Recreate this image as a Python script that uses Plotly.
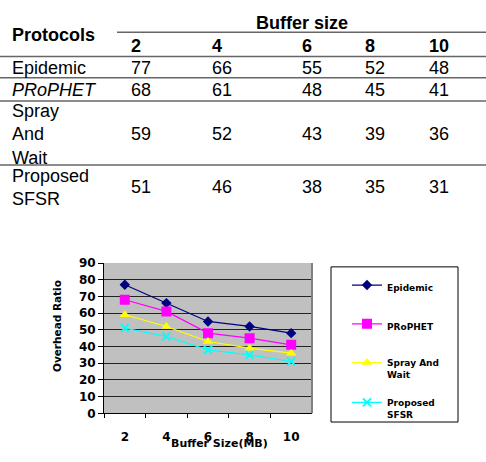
import plotly.graph_objects as go

# ---------------- data ----------------
buffer_sizes = ["2", "4", "6", "8", "10"]
protocols = ["Epidemic", "PRoPHET", "Spray And Wait", "Proposed SFSR"]
table_row_labels = ["Epidemic", "<i>PRoPHET</i>", "Spray<br>And<br>Wait", "Proposed<br>SFSR"]
legend_labels = ["Epidemic", "PRoPHET", "Spray And<br>Wait", "Proposed<br>SFSR"]
epidemic = [77, 66, 55, 52, 48]
prophet = [68, 61, 48, 45, 41]
spray_and_wait = [59, 52, 43, 39, 36]
proposed_sfsr = [51, 46, 38, 35, 31]
series = [epidemic, prophet, spray_and_wait, proposed_sfsr]

# ---------------- styles ----------------
W, H = 486, 462
colors = ["#000080", "#FF00FF", "#FFFF00", "#00FFFF"]
symbols = ["diamond", "square", "triangle-up", "x-thin"]
msizes = [8, 10, 9, 8]
chart_font = "DejaVu Sans"
table_font = "Liberation Sans"
legend_names = ["legend", "legend2", "legend3", "legend4"]
legend_top = [274, 314, 354, 395]


def px(x):
    return x / W


def py(y):
    return 1 - y / H


fig = go.Figure()
for i, vals in enumerate(series):
    marker = dict(color=colors[i], size=msizes[i], symbol=symbols[i])
    if symbols[i] == "x-thin":
        marker["line"] = dict(color=colors[i], width=2)
    fig.add_trace(go.Scatter(
        x=buffer_sizes, y=vals, name=legend_labels[i], mode="lines+markers",
        line=dict(color=colors[i], width=1.2), marker=marker,
        legend=legend_names[i],
    ))

annotations = []
shapes = []

# ---------------- table ----------------
col_x = [129, 210, 300, 363, 427]
row_y = [63, 86, 131, 186]
tf = dict(family=table_font, size=18, color="black")
annotations.append(dict(text="<b>Protocols</b>", x=px(10), y=py(29), xref="paper", yref="paper",
                        xanchor="left", yanchor="middle", showarrow=False, font=tf))
annotations.append(dict(text="<b>Buffer size</b>", x=px(302), y=py(17), xref="paper", yref="paper",
                        xanchor="center", yanchor="middle", showarrow=False, font=tf))
for j, b in enumerate(buffer_sizes):
    annotations.append(dict(text=f"<b>{b}</b>", x=px(col_x[j]), y=py(40), xref="paper", yref="paper",
                            xanchor="left", yanchor="middle", showarrow=False, font=tf))
for i, lab in enumerate(table_row_labels):
    annotations.append(dict(text=lab, x=px(10), y=py(row_y[i]), xref="paper", yref="paper",
                            xanchor="left", yanchor="middle", showarrow=False, font=tf, align="left"))
    for j, v in enumerate(series[i]):
        annotations.append(dict(text=str(v), x=px(col_x[j]), y=py(row_y[i]), xref="paper", yref="paper",
                                xanchor="left", yanchor="middle", showarrow=False, font=tf))

line_style = dict(color="#666666", width=1.5)
for (x0, x1, yy) in [(117, 486, 26), (0, 486, 51), (0, 486, 73), (0, 486, 97), (0, 486, 163)]:
    shapes.append(dict(type="line", xref="paper", yref="paper", x0=px(x0), x1=px(x1),
                       y0=py(yy), y1=py(yy), line=line_style))

# ---------------- chart extras ----------------
cf = dict(family=chart_font, size=11, color="black", weight="bold")
annotations.append(dict(text="Buffer Size(MB)", x=px(219), y=py(450), xref="paper", yref="paper",
                        xanchor="center", yanchor="middle", showarrow=False, font=cf))
annotations.append(dict(text="Overhead Ratio", x=px(57), y=py(329), xref="paper", yref="paper",
                        xanchor="center", yanchor="middle", showarrow=False, font=dict(cf, size=10.5),
                        textangle=-90))
# right border of plot area
shapes.append(dict(type="line", xref="x domain", yref="y domain", x0=1, x1=1, y0=0, y1=1,
                   line=dict(color="#808080", width=2)))
# legend box
shapes.append(dict(type="rect", xref="paper", yref="paper", x0=px(331), x1=px(458),
                   y0=py(428), y1=py(268), line=dict(color="black", width=1)))

lfont = dict(family=chart_font, size=9, color="black", weight="bold")
layout_legends = {}
for i, ln in enumerate(legend_names):
    layout_legends[ln] = dict(x=px(347), y=py(legend_top[i]), xanchor="left", yanchor="top",
                              font=lfont, bgcolor="rgba(0,0,0,0)", borderwidth=0, valign="top")

fig.update_layout(
    width=W, height=H, margin=dict(l=0, r=0, t=0, b=0),
    paper_bgcolor="white", plot_bgcolor="#C0C0C0",
    showlegend=True,
    xaxis=dict(domain=[px(104), px(312)], type="category", range=[-0.5, 4.5],
               tickson="boundaries", ticks="outside", ticklen=4, tickcolor="black",
               showline=True, linecolor="black", linewidth=1, showgrid=False,
               tickfont=dict(family=chart_font, size=12, color="black", weight="bold"),
               ticklabelstandoff=12, fixedrange=True),
    yaxis=dict(domain=[py(419), py(264)], range=[0, 90], dtick=10, ticks="outside", ticklen=5,
               tickcolor="black", showline=True, linecolor="black", linewidth=1,
               showgrid=True, gridcolor="#222222", gridwidth=1, zeroline=False,
               tickfont=dict(family=chart_font, size=12, color="black", weight="bold"),
               fixedrange=True),
    annotations=annotations, shapes=shapes,
    **layout_legends,
)

fig.write_html("out.html")
